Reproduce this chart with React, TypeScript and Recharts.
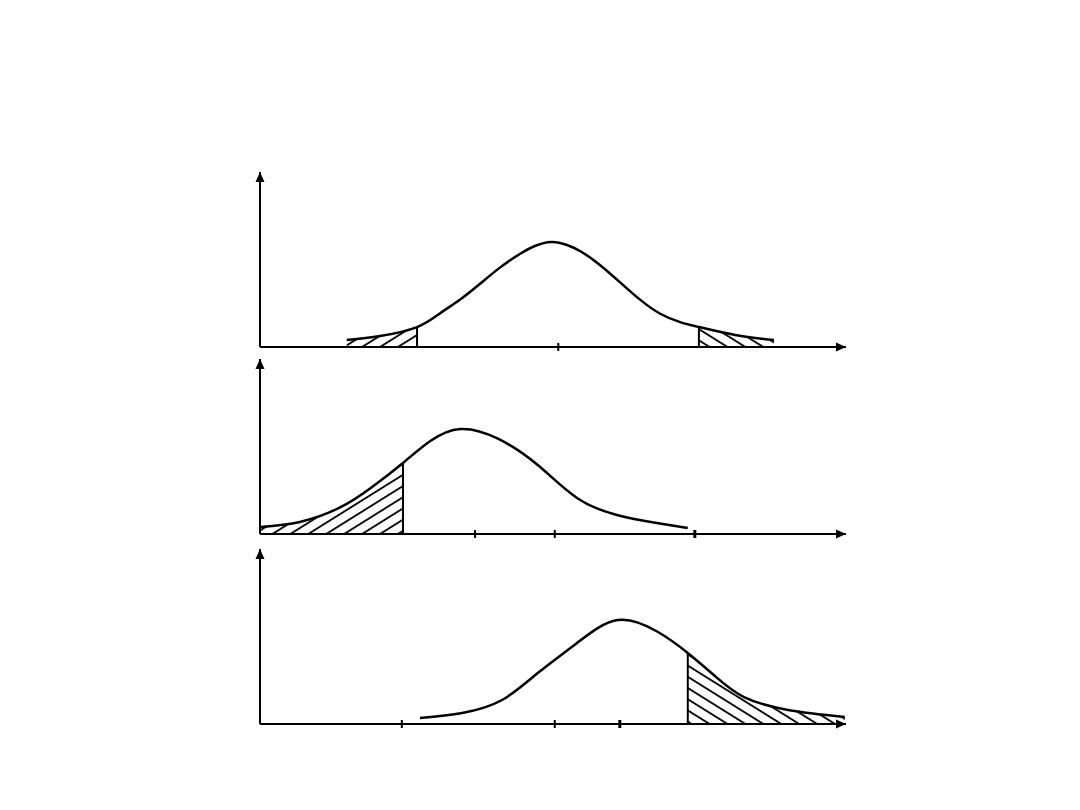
import { ComposedChart, Line, Area, XAxis, YAxis, ReferenceLine, ReferenceDot } from 'recharts';

// x in abstract units 0..10 along the horizontal axis, y in units 0..10 up the vertical axis
const panel1Curve = [
  { x: 1.48, y: 0.4 }, { x: 2.05, y: 0.63 }, { x: 2.68, y: 1.14 }, { x: 3.07, y: 1.92 },
  { x: 3.41, y: 2.7 }, { x: 3.75, y: 3.6 }, { x: 4.1, y: 4.55 }, { x: 4.44, y: 5.33 },
  { x: 4.69, y: 5.77 }, { x: 4.97, y: 6.0 }, { x: 5.24, y: 5.83 }, { x: 5.49, y: 5.43 },
  { x: 5.8, y: 4.69 }, { x: 6.14, y: 3.71 }, { x: 6.48, y: 2.72 }, { x: 6.83, y: 1.9 },
  { x: 7.17, y: 1.42 }, { x: 7.49, y: 1.14 }, { x: 8.11, y: 0.69 }, { x: 8.77, y: 0.4 },
];
const panel1LeftCut = 2.68;
const panel1RightCut = 7.49;
const panel1Ticks = [5.09];

const panel2Curve = [
  { x: 0, y: 0.4 }, { x: 0.68, y: 0.69 }, { x: 1.35, y: 1.49 }, { x: 1.89, y: 2.63 },
  { x: 2.44, y: 4.06 }, { x: 2.9, y: 5.3 }, { x: 3.42, y: 6.0 }, { x: 4.06, y: 5.45 },
  { x: 4.74, y: 3.94 }, { x: 5.41, y: 2.06 }, { x: 6.09, y: 1.09 }, { x: 6.77, y: 0.63 },
  { x: 7.3, y: 0.34 },
];
const panel2Cut = 2.44;
const panel2Ticks = [3.67, 5.03];
const panel2BoldTicks = [7.42];

const panel3Curve = [
  { x: 2.73, y: 0.34 }, { x: 3.45, y: 0.63 }, { x: 4.13, y: 1.37 }, { x: 4.74, y: 2.91 },
  { x: 5.41, y: 4.63 }, { x: 6.1, y: 5.94 }, { x: 6.77, y: 5.3 }, { x: 7.3, y: 4.06 },
  { x: 7.78, y: 2.69 }, { x: 8.26, y: 1.54 }, { x: 9.01, y: 0.8 }, { x: 9.98, y: 0.4 },
];
const panel3Cut = 7.3;
const panel3Ticks = [2.42, 5.03];
const panel3BoldTicks = [6.14];

const TickMark = (w: number) => (props: any) => {
  const { cx, cy } = props;
  return <line x1={cx} x2={cx} y1={cy - 4} y2={cy + 4} stroke="#000" strokeWidth={w} />;
};

interface PanelProps {
  top: number;
  curve: { x: number; y: number }[];
  tails: { from: number; to: number; cut: number; hatch: string }[];
  ticks: number[];
  boldTicks?: number[];
}

function Panel({ top, curve, tails, ticks, boldTicks = [] }: PanelProps) {
  const valueAt = (x: number) => curve.find((p) => p.x === x)?.y ?? 0;
  return (
    <div style={{ position: 'absolute', left: 240, top }}>
      <ComposedChart width={620} height={200} margin={{ top: 12, right: 14, bottom: 0, left: 0 }}>
        <XAxis
          dataKey="x"
          type="number"
          domain={[0, 10]}
          allowDataOverflow
          height={13}
          tick={false}
          tickLine={false}
          axisLine={{ stroke: '#000', strokeWidth: 2, markerEnd: 'url(#arrowHead)' }}
        />
        <YAxis
          type="number"
          domain={[0, 10]}
          allowDataOverflow
          width={20}
          tick={false}
          tickLine={false}
          axisLine={{ stroke: '#000', strokeWidth: 2, markerStart: 'url(#arrowHead)' }}
        />
        {tails.map((t, i) => (
          <Area
            key={'tail' + i}
            data={curve.filter((p) => p.x >= t.from && p.x <= t.to)}
            dataKey="y"
            type="natural"
            fill={`url(#${t.hatch})`}
            fillOpacity={1}
            stroke="none"
            isAnimationActive={false}
          />
        ))}
        {tails.map((t, i) => (
          <ReferenceLine
            key={'cut' + i}
            segment={[{ x: t.cut, y: 0 }, { x: t.cut, y: valueAt(t.cut) }]}
            stroke="#000"
            strokeWidth={2}
          />
        ))}
        <Line
          data={curve}
          dataKey="y"
          type="natural"
          stroke="#000"
          strokeWidth={2.5}
          dot={false}
          activeDot={false}
          isAnimationActive={false}
        />
        {ticks.map((x) => (
          <ReferenceDot key={'t' + x} x={x} y={0} shape={TickMark(2)} />
        ))}
        {boldTicks.map((x) => (
          <ReferenceDot key={'b' + x} x={x} y={0} shape={TickMark(3)} />
        ))}
      </ComposedChart>
    </div>
  );
}

export default function App() {
  return (
    <div style={{ position: 'absolute', left: 0, top: 0, width: 1080, height: 810, background: '#fff' }}>
      <svg width={0} height={0} style={{ position: 'absolute' }}>
        <defs>
          <marker
            id="arrowHead"
            viewBox="0 0 10 10"
            refX={10}
            refY={5}
            markerWidth={11}
            markerHeight={10}
            markerUnits="userSpaceOnUse"
            orient="auto-start-reverse"
          >
            <path d="M0,0.5 L10,5 L0,9.5 z" fill="#000" />
          </marker>
          <pattern id="hatchUp" patternUnits="userSpaceOnUse" width={10} height={9.5} patternTransform="rotate(-32)">
            <line x1={0} x2={10} y1={4.75} y2={4.75} stroke="#000" strokeWidth={1.8} />
          </pattern>
          <pattern id="hatchDown" patternUnits="userSpaceOnUse" width={10} height={9.5} patternTransform="rotate(32)">
            <line x1={0} x2={10} y1={4.75} y2={4.75} stroke="#000" strokeWidth={1.8} />
          </pattern>
        </defs>
      </svg>
      <Panel
        top={160}
        curve={panel1Curve}
        tails={[
          { from: 0, to: panel1LeftCut, cut: panel1LeftCut, hatch: 'hatchUp' },
          { from: panel1RightCut, to: 10, cut: panel1RightCut, hatch: 'hatchDown' },
        ]}
        ticks={panel1Ticks}
      />
      <Panel
        top={347}
        curve={panel2Curve}
        tails={[{ from: 0, to: panel2Cut, cut: panel2Cut, hatch: 'hatchUp' }]}
        ticks={panel2Ticks}
        boldTicks={panel2BoldTicks}
      />
      <Panel
        top={537}
        curve={panel3Curve}
        tails={[{ from: panel3Cut, to: 10, cut: panel3Cut, hatch: 'hatchDown' }]}
        ticks={panel3Ticks}
        boldTicks={panel3BoldTicks}
      />
    </div>
  );
}
